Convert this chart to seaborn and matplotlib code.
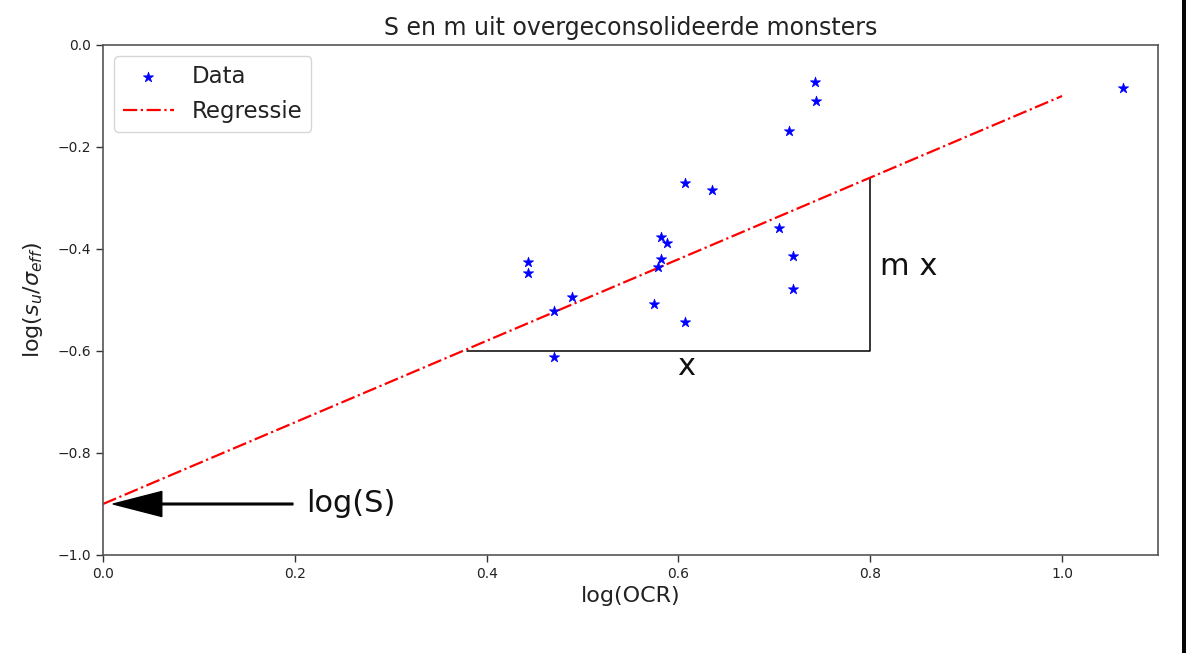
import matplotlib
matplotlib.use("Agg")
import matplotlib.pyplot as plt
from matplotlib.lines import Line2D
import seaborn as sns
import pandas as pd

# ---- data ----
log_ocr = [0.443, 0.443, 0.470, 0.489, 0.470, 0.574, 0.582, 0.588, 0.582, 0.579,
           0.607, 0.607, 0.635, 0.705, 0.719, 0.719, 0.715, 0.742, 0.743, 1.064]
log_su = [-0.425, -0.447, -0.521, -0.494, -0.611, -0.507, -0.377, -0.389, -0.419, -0.436,
          -0.270, -0.544, -0.285, -0.358, -0.414, -0.478, -0.168, -0.073, -0.109, -0.085]
reg_x = [0.0, 1.0]
reg_y = [-0.9, -0.1]
tri_x = [0.38, 0.8, 0.8]
tri_y = [-0.6, -0.6, -0.26]

title = "S en m uit overgeconsolideerde monsters"
xlabel = "log(OCR)"
ylabel = r"log($s_u/\sigma_{eff}$)"

df = pd.DataFrame({"x": log_ocr, "y": log_su})
reg = pd.DataFrame({"x": reg_x, "y": reg_y})

sns.set_style("ticks")
plt.rcParams["font.family"] = ["DejaVu Sans"]
plt.rcParams["mathtext.fontset"] = "dejavusans"

fig = plt.figure(figsize=(11.86, 6.53), dpi=100)
ax = fig.add_axes([103/1186, 1-555/653, (1158-103)/1186, (555-45)/653])

sns.scatterplot(data=df, x="x", y="y", ax=ax, marker="*", color="blue",
                s=60, edgecolor="blue", linewidth=0.5, label="Data", zorder=3)
sns.lineplot(data=reg, x="x", y="y", ax=ax, color="red", linestyle="-.",
             linewidth=1.6, label="Regressie")
ax.plot(tri_x, tri_y, color="black", linewidth=1.1, zorder=1)

ax.set_xlim(0, 1.1)
ax.set_ylim(-1.0, 0.0)
ax.set_xticks([0.0, 0.2, 0.4, 0.6, 0.8, 1.0])
ax.set_yticks([-1.0, -0.8, -0.6, -0.4, -0.2, 0.0])
ax.tick_params(labelsize=10, length=5, width=1, color="#333333", labelcolor="#222222")
for sp in ax.spines.values():
    sp.set_visible(True)
    sp.set_color("#555555")
    sp.set_linewidth(1.2)

ax.set_title(title, fontsize=17, color="#222222", pad=7)
ax.set_xlabel(xlabel, fontsize=16, color="#222222")
ax.set_ylabel(ylabel, fontsize=16, color="#222222", labelpad=9)

ax.text(0.599, -0.63, "x", fontsize=22, ha="left", va="center", color="#111111")
ax.text(0.81, -0.435, "m x", fontsize=22, ha="left", va="center", color="#111111")
ax.annotate("log(S)", xy=(0.0, -0.9), xytext=(0.212, -0.9), fontsize=22,
            va="center", ha="left", color="#111111",
            arrowprops=dict(facecolor="black", edgecolor="black", width=1.2,
                            headwidth=18, headlength=35, shrink=0.05))

leg = ax.legend(loc="upper left", fontsize=16.5, frameon=True, borderpad=0.38,
                handlelength=2.2, labelspacing=0.52)
leg.get_frame().set_edgecolor("#cccccc")
for t in leg.get_texts():
    t.set_color("#222222")

# right-hand screenshot border
fig.add_artist(Line2D([1182.5/1186, 1182.5/1186], [0, 1], color="black", lw=1.4,
                      transform=fig.transFigure))
fig.add_artist(Line2D([1185.3/1186, 1185.3/1186], [0, 1], color="black", lw=1.4,
                      transform=fig.transFigure))

fig.savefig("out.png", dpi=100, facecolor="white")
